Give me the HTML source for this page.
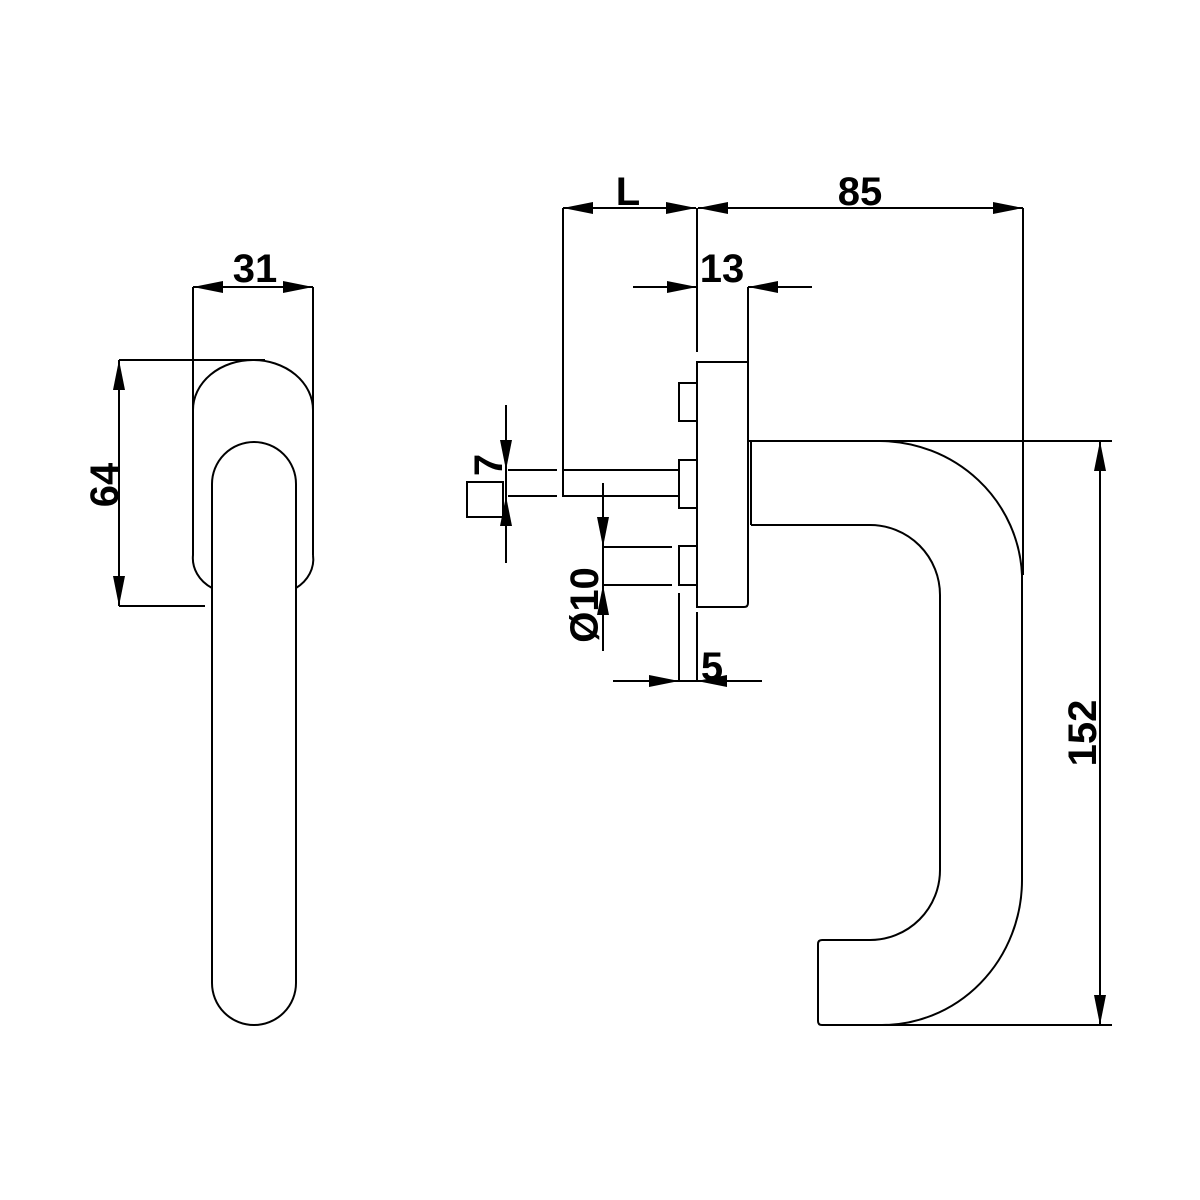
<!DOCTYPE html>
<html><head><meta charset="utf-8"><style>html,body{margin:0;padding:0;background:#fff}svg{display:block}</style></head>
<body>
<svg width="1200" height="1200" viewBox="0 0 1200 1200" xmlns="http://www.w3.org/2000/svg">
<defs>
<marker id="a" viewBox="0 0 30 12" refX="30" refY="6" markerWidth="30" markerHeight="12" markerUnits="userSpaceOnUse" orient="auto"><path d="M0,0 L30,6 L0,12 Z" fill="#000"/></marker>
</defs>
<g fill="none" stroke="#000" stroke-width="2">
<!-- Left view -->
<path d="M193,410 A60,50 0 0 1 313,410 L313,555"/>
<path d="M193,410 L193,555 A40,35 0 0 0 212,588"/>
<path d="M313,555 A40,35 0 0 1 296,588"/>
<path d="M212,484 A42,42 0 0 1 296,484 L296,983 A42,42 0 0 1 212,983 Z"/>
<!-- dim 31 -->
<line x1="193" y1="287" x2="193" y2="410"/><line x1="313" y1="287" x2="313" y2="410"/>
<line x1="253" y1="287" x2="193" y2="287" marker-end="url(#a)"/>
<line x1="253" y1="287" x2="313" y2="287" marker-end="url(#a)"/>
<!-- dim 64 -->
<line x1="119" y1="360" x2="265" y2="360"/><line x1="119" y1="606" x2="205" y2="606"/>
<line x1="119" y1="483" x2="119" y2="360" marker-end="url(#a)"/>
<line x1="119" y1="483" x2="119" y2="606" marker-end="url(#a)"/>

<!-- Right view plate -->
<path d="M697,362 L748,362 L748,603 Q748,607 744,607 L697,607 Z"/>
<line x1="697" y1="208" x2="697" y2="352"/>
<line x1="748" y1="287" x2="748" y2="362"/>
<rect x="679" y="383" width="18" height="38"/>
<rect x="679" y="460" width="18" height="48"/>
<rect x="679" y="546" width="18" height="39"/>
<rect x="563" y="470" width="116" height="26"/>
<line x1="508" y1="470" x2="557" y2="470"/><line x1="508" y1="496" x2="557" y2="496"/>
<rect x="467" y="482" width="36" height="35"/>
<line x1="603" y1="547" x2="672" y2="547"/><line x1="603" y1="585" x2="672" y2="585"/>
<!-- handle -->
<path d="M749,441 L880,441 A143,140 0 0 1 1022,575 L1022,880 A140,145 0 0 1 880,1025 L822,1025 Q818,1025 818,1021 L818,944 Q818,940 822,940 L870,940 A70,70 0 0 0 940,870 L940,595 A70,70 0 0 0 870,525 L751,525"/>
<line x1="751" y1="441" x2="751" y2="525"/>
<!-- dims L / 85 -->
<line x1="563" y1="208" x2="563" y2="470"/>
<line x1="1023" y1="208" x2="1023" y2="575"/>
<line x1="630" y1="208" x2="563" y2="208" marker-end="url(#a)"/>
<line x1="630" y1="208" x2="696" y2="208" marker-end="url(#a)"/>
<line x1="860" y1="208" x2="698" y2="208" marker-end="url(#a)"/>
<line x1="860" y1="208" x2="1023" y2="208" marker-end="url(#a)"/>
<!-- 13 -->
<line x1="633" y1="287" x2="697" y2="287" marker-end="url(#a)"/>
<line x1="812" y1="287" x2="748" y2="287" marker-end="url(#a)"/>
<!-- 152 -->
<line x1="880" y1="441" x2="1112" y2="441"/>
<line x1="880" y1="1025" x2="1112" y2="1025"/>
<line x1="1100" y1="733" x2="1100" y2="441" marker-end="url(#a)"/>
<line x1="1100" y1="733" x2="1100" y2="1025" marker-end="url(#a)"/>
<!-- 7 -->
<line x1="506" y1="405" x2="506" y2="470" marker-end="url(#a)"/>
<line x1="506" y1="563" x2="506" y2="496" marker-end="url(#a)"/>
<line x1="506" y1="470" x2="506" y2="496"/>
<!-- Ø10 -->
<line x1="603" y1="483" x2="603" y2="547" marker-end="url(#a)"/>
<line x1="603" y1="651" x2="603" y2="585" marker-end="url(#a)"/>
<line x1="603" y1="547" x2="603" y2="585"/>
<!-- 5 -->
<line x1="679" y1="593" x2="679" y2="681"/>
<line x1="697" y1="612" x2="697" y2="681"/>
<line x1="613" y1="681" x2="679" y2="681" marker-end="url(#a)"/>
<line x1="762" y1="681" x2="697" y2="681" marker-end="url(#a)"/>
<line x1="679" y1="681" x2="697" y2="681"/>
</g>
<g font-family="Liberation Sans, sans-serif" font-weight="bold" font-size="40" fill="#000" text-anchor="middle">
<text x="255" y="282">31</text>
<text x="628" y="205">L</text>
<text x="860" y="205">85</text>
<text x="722" y="282">13</text>
<text x="712" y="680">5</text>
<text transform="translate(118,485) rotate(-90)">64</text>
<text transform="translate(1096,733) rotate(-90)">152</text>
<text transform="translate(502,465) rotate(-90)">7</text>
<text transform="translate(598,605) rotate(-90)">Ø10</text>
</g>
</svg>
</body></html>
